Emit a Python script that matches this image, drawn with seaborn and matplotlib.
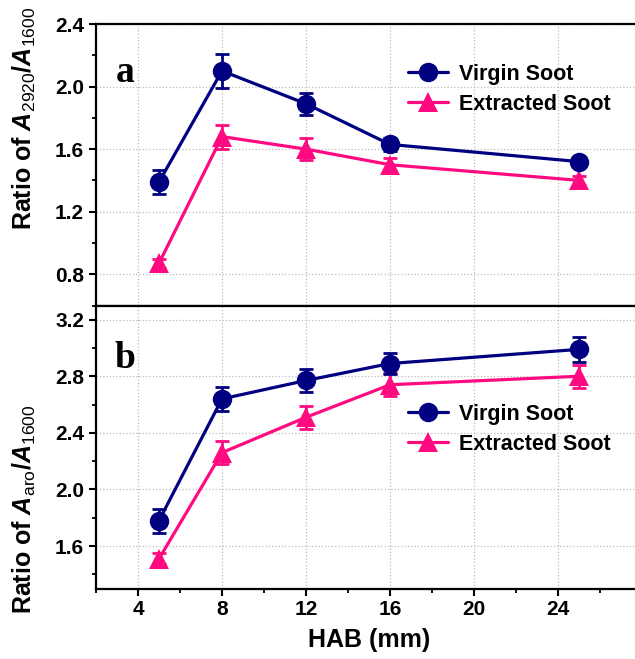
import numpy as np
import pandas as pd
import matplotlib
matplotlib.use('Agg')
import matplotlib.pyplot as plt
import seaborn as sns
from matplotlib.ticker import MultipleLocator
from matplotlib.lines import Line2D

# ---- data ----
hab = [5, 8, 12, 16, 25]
series_names = ['Virgin Soot', 'Extracted Soot']
virgin_a = [1.39, 2.10, 1.89, 1.63, 1.52]
virgin_a_err = [0.075, 0.11, 0.07, 0.04, 0.03]
extr_a = [0.87, 1.68, 1.60, 1.50, 1.40]
extr_a_err = [0.03, 0.077, 0.07, 0.04, 0.03]
virgin_b = [1.78, 2.64, 2.77, 2.89, 2.99]
virgin_b_err = [0.085, 0.086, 0.079, 0.077, 0.088]
extr_b = [1.51, 2.26, 2.51, 2.74, 2.80]
extr_b_err = [0.04, 0.083, 0.08, 0.08, 0.08]
x_ticks = [4, 8, 12, 16, 20, 24]
yticks_a = [0.8, 1.2, 1.6, 2.0, 2.4]
yticks_b = [1.6, 2.0, 2.4, 2.8, 3.2]

colors = {'Virgin Soot': '#000080', 'Extracted Soot': '#FF0A80'}
markers = {'Virgin Soot': 'o', 'Extracted Soot': '^'}

sns.set_style('ticks')
plt.rcParams['font.family'] = ['Liberation Sans', 'DejaVu Sans']
plt.rcParams['mathtext.fontset'] = 'custom'
plt.rcParams['mathtext.rm'] = 'Liberation Sans'
plt.rcParams['mathtext.it'] = 'Liberation Sans:italic'
plt.rcParams['mathtext.bf'] = 'Liberation Sans:bold'
plt.rcParams['mathtext.bfit'] = 'Liberation Sans:italic:bold'
for k in ['text.color', 'axes.labelcolor', 'xtick.color', 'ytick.color', 'axes.edgecolor']:
    plt.rcParams[k] = 'black'

fig = plt.figure(figsize=(6.35, 6.59), dpi=100)
W, H = 635, 659
def rect(l, t, r, b):
    return [l / W, 1 - b / H, (r - l) / W, (b - t) / H]

ax_a = fig.add_axes(rect(96, 24, 642, 305.5))
ax_b = fig.add_axes(rect(96, 305.5, 642, 588.5))

def draw(ax, v, ve, e, ee):
    df = pd.DataFrame({
        'HAB': hab * 2,
        'ratio': v + e,
        'series': [series_names[0]] * len(hab) + [series_names[1]] * len(hab),
    })
    for name, vals, errs in [(series_names[1], e, ee), (series_names[0], v, ve)]:
        ax.errorbar(hab, vals, yerr=errs, fmt='none', ecolor=colors[name],
                    elinewidth=2, capsize=5, capthick=2, zorder=3)
    sns.lineplot(data=df, x='HAB', y='ratio', hue='series', style='series',
                 hue_order=series_names[::-1], style_order=series_names[::-1],
                 palette=colors, markers=markers, dashes=False, markersize=14,
                 markeredgewidth=0, linewidth=2.3, legend=False, ax=ax, zorder=4)
    ax.set_xlim(2, 28)
    ax.xaxis.set_major_locator(MultipleLocator(4))
    ax.xaxis.set_minor_locator(MultipleLocator(2))
    ax.yaxis.set_minor_locator(MultipleLocator(0.2))
    ax.grid(True, which='major', linestyle=':', color='#bbbbbb', linewidth=0.9)
    for s in ax.spines.values():
        s.set_linewidth(1.6)
        s.set_color('black')
    ax.tick_params(which='major', direction='out', length=5, width=1.5,
                   labelsize=15, color='black', labelcolor='black')
    ax.tick_params(which='minor', direction='out', length=3, width=1.3, color='black')
    handles = [Line2D([], [], color=colors[n], marker=markers[n], markersize=14,
                      markeredgewidth=0, linewidth=2.3) for n in series_names]
    return handles

h = draw(ax_a, virgin_a, virgin_a_err, extr_a, extr_a_err)
draw(ax_b, virgin_b, virgin_b_err, extr_b, extr_b_err)

ax_a.set_ylim(0.6, 2.4)
ax_a.set_yticks(yticks_a)
ax_a.set_yticklabels([f'{t:.1f}' for t in yticks_a], fontweight='bold')
ax_b.set_ylim(1.3, 3.3)
ax_b.set_yticks(yticks_b)
ax_b.set_yticklabels([f'{t:.1f}' for t in yticks_b], fontweight='bold')

ax_a.set_xticks(x_ticks)
ax_a.tick_params(axis='x', labelbottom=False)
ax_b.set_xticks(x_ticks)
ax_b.set_xticklabels([str(t) for t in x_ticks], fontweight='bold')

ax_a.set_xlabel('')
ax_b.set_xlabel('HAB (mm)', fontsize=18, fontweight='bold', labelpad=6)
ax_a.set_ylabel(r'Ratio of $\mathbfit{A}_{\mathrm{2920}}$/$\mathbfit{A}_{\mathrm{1600}}$',
                fontsize=18, fontweight='bold', va='center')
ax_b.set_ylabel(r'Ratio of $\mathbfit{A}_{\mathrm{aro}}$/$\mathbfit{A}_{\mathrm{1600}}$',
                fontsize=18, fontweight='bold', va='center')
ax_a.yaxis.set_label_coords((24 - 96) / 546, (305.5 - 118) / 281.5)
ax_b.yaxis.set_label_coords((24 - 96) / 546, (588.5 - 509) / 283)

ax_a.text((125 - 96) / 546, (305.5 - 72) / 281.5, 'a', transform=ax_a.transAxes,
          ha='center', va='center', fontsize=27, fontweight='bold',
          family='Liberation Serif')
ax_b.text((125 - 96) / 546, (588.5 - 358) / 283, 'b', transform=ax_b.transAxes,
          ha='center', va='center', fontsize=27, fontweight='bold',
          family='Liberation Serif')

leg_kw = dict(loc='upper left', frameon=False, borderpad=0, borderaxespad=0,
              handlelength=1.85, handletextpad=0.5, labelspacing=0.4,
              prop={'weight': 'bold', 'size': 15.5})
ax_a.legend(h, series_names, bbox_to_anchor=((408 - 96) / 546, (305.5 - 64) / 281.5), **leg_kw)
ax_b.legend(h, series_names, bbox_to_anchor=((408 - 96) / 546, (588.5 - 404) / 283), **leg_kw)

fig.savefig('out.png', dpi=100)
